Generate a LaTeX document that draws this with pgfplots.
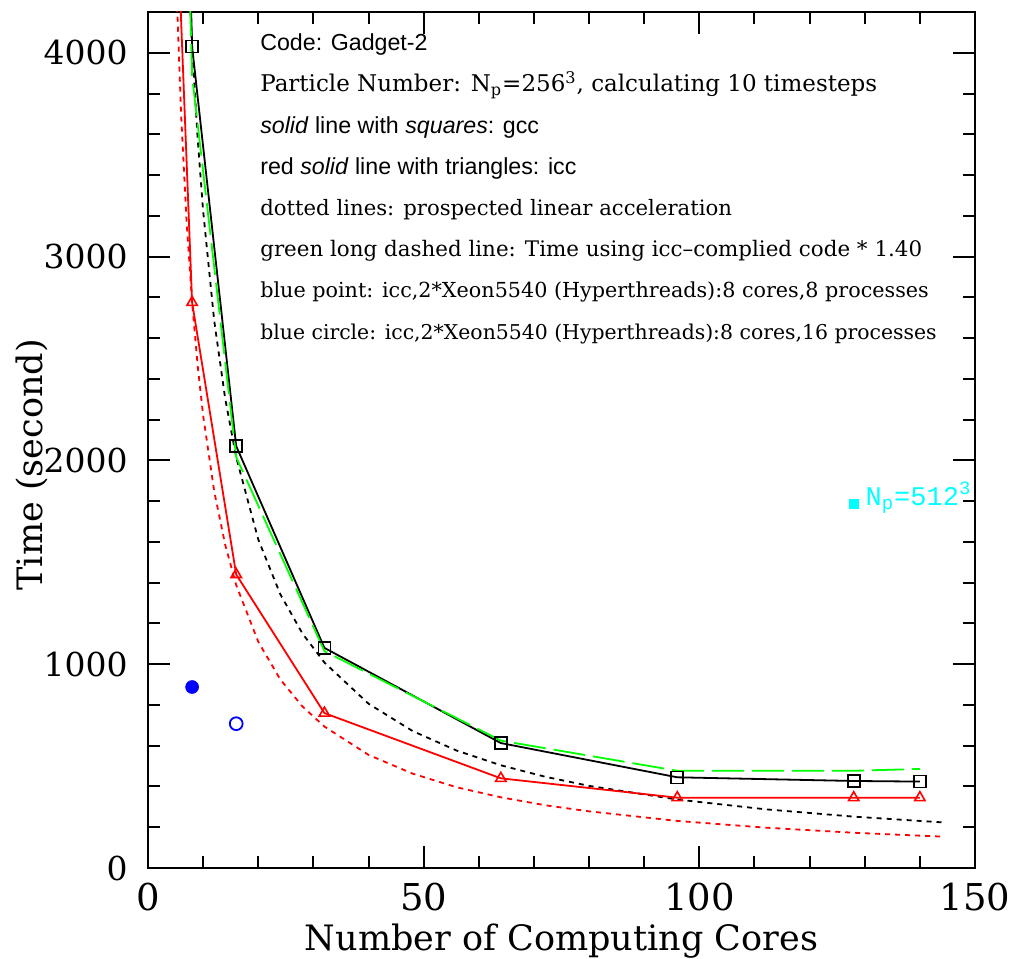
\documentclass[border=0pt]{standalone}
\usepackage{fontspec}
\setmainfont{DejaVu Serif}
\newfontfamily\lsans{Liberation Sans}
\newfontfamily\lmono{Liberation Mono}
\usepackage{pgfplots}
\pgfplotsset{compat=1.18}
\definecolor{cyanpure}{RGB}{0,255,255}
\definecolor{greenpure}{RGB}{0,255,0}
\definecolor{redpure}{RGB}{255,0,0}
\definecolor{bluepure}{RGB}{0,0,255}
\begin{document}
\begin{tikzpicture}
\begin{axis}[name=ax, scale only axis, width=413.5pt, height=428pt,
  xmin=0, xmax=150, ymin=0, ymax=4200,
  xtick={0,50,100,150}, ytick={0,1000,2000,3000,4000},
  minor x tick num=4, minor y tick num=4,
  xtick pos=both, ytick pos=both, tick align=inside,
  major tick length=11pt, minor tick length=6pt,
  every tick/.style={black, line width=1pt},
  axis line style={line width=1pt},
  /pgf/number format/assume math mode=true,
  /pgf/number format/set thousands separator={},
  xticklabel style={font=\fontsize{18.5}{20}\selectfont, anchor=north, inner sep=0pt, yshift=-7.5pt},
  yticklabel style={font=\fontsize{16.5}{18}\selectfont, anchor=east, inner sep=0pt, xshift=-10pt},
  xlabel={Number of Computing Cores}, ylabel={Time (second)},
  label style={font=\fontsize{17.5}{20}\selectfont},
  xlabel style={at={(axis description cs:0.5,-0.0958)}, anchor=base},
  ylabel style={at={(axis description cs:-0.1403,0.471)}, anchor=center},
]
% prospected linear acceleration (dotted)
\addplot[black, line width=0.9pt, dash pattern=on 2.5pt off 2.5pt] coordinates {
(6,5373) (7,4606) (8,4030) (9,3582) (10,3224) (12,2687) (14,2303) (16,2015)
(20,1612) (24,1343) (28,1151) (32,1008) (40,806) (48,672) (56,576) (64,504)
(72,448) (80,403) (96,336) (112,288) (128,252) (144,224)};
\addplot[redpure, line width=0.9pt, dash pattern=on 2.5pt off 2.5pt] coordinates {
(4,5550) (5,4440) (6,3700) (7,3171) (8,2775) (9,2467) (10,2220) (12,1850)
(14,1586) (16,1388) (20,1110) (24,925) (28,793) (32,694) (40,555) (48,463)
(56,396) (64,347) (72,308) (80,278) (96,231) (112,198) (128,173) (144,154)};
% gcc
\addplot[black, line width=0.9pt, mark=square, mark size=3pt, mark options={solid, line width=0.8pt}] coordinates {
(4,8060) (8,4030) (16,2070) (32,1080) (64,613) (96,445) (128,427) (140,424)};
% icc * 1.40
\addplot[greenpure, line width=0.9pt, dash pattern=on 16pt off 4pt] coordinates {
(4,7770) (8,3885) (16,2016) (32,1064) (64,625) (96,477) (128,477) (140,486)};
% icc
\addplot[redpure, line width=0.9pt, mark=triangle, mark size=3pt, mark options={solid, line width=0.8pt}] coordinates {
(4,5550) (8,2775) (16,1440) (32,760) (64,440) (96,345) (128,345) (140,345)};
% Xeon5540 hyperthreads
\addplot[bluepure, only marks, mark=*, mark size=3.2pt] coordinates {(8,888)};
\addplot[bluepure, only marks, mark=o, mark size=3.2pt, mark options={line width=0.9pt}] coordinates {(16,708)};
% Np=512^3
\addplot[cyanpure, only marks, mark=square*, mark size=2.2pt] coordinates {(128,1787)};
\node[anchor=base west, text=cyanpure, inner sep=0pt, font=\lmono\fontsize{13.5}{15}\selectfont] at (axis cs:130.1,1779) {N\textsubscript{p}=512\textsuperscript{3}};
% annotations
\node[anchor=base west, inner sep=0pt, font=\lsans\fontsize{11.6}{13}\selectfont] at (axis cs:20.3,4010) {Code: Gadget-2};
\node[anchor=base west, inner sep=0pt, font=\fontsize{11.5}{12}\selectfont] at (axis cs:20.3,3808) {Particle Number: N\textsubscript{p}=256\textsuperscript{3}, calculating 10 timesteps};
\node[anchor=base west, inner sep=0pt, font=\lsans\fontsize{11.6}{13}\selectfont] at (axis cs:20.3,3606) {\textit{solid} line with \textit{squares}: gcc};
\node[anchor=base west, inner sep=0pt, font=\lsans\fontsize{11.6}{13}\selectfont] at (axis cs:20.3,3404) {red \textit{solid} line with triangles: icc};
\node[anchor=base west, inner sep=0pt, font=\fontsize{10.6}{12}\selectfont] at (axis cs:20.3,3202) {dotted lines: prospected linear acceleration};
\node[anchor=base west, inner sep=0pt, font=\fontsize{10.7}{12}\selectfont] at (axis cs:20.3,3000) {green long dashed line: Time using icc--complied code * 1.40};
\node[anchor=base west, inner sep=0pt, font=\fontsize{10.35}{12}\selectfont] at (axis cs:20.3,2797) {blue point: icc,2*Xeon5540 (Hyperthreads):8 cores,8 processes};
\node[anchor=base west, inner sep=0pt, font=\fontsize{10.2}{12}\selectfont] at (axis cs:20.3,2595) {blue circle: icc,2*Xeon5540 (Hyperthreads):8 cores,16 processes};
\end{axis}
\pgfresetboundingbox
\path[use as bounding box] ([shift={(-74pt,-45pt)}]ax.south west) rectangle ([shift={(17.5pt,6pt)}]ax.north east);
\end{tikzpicture}
\end{document}
